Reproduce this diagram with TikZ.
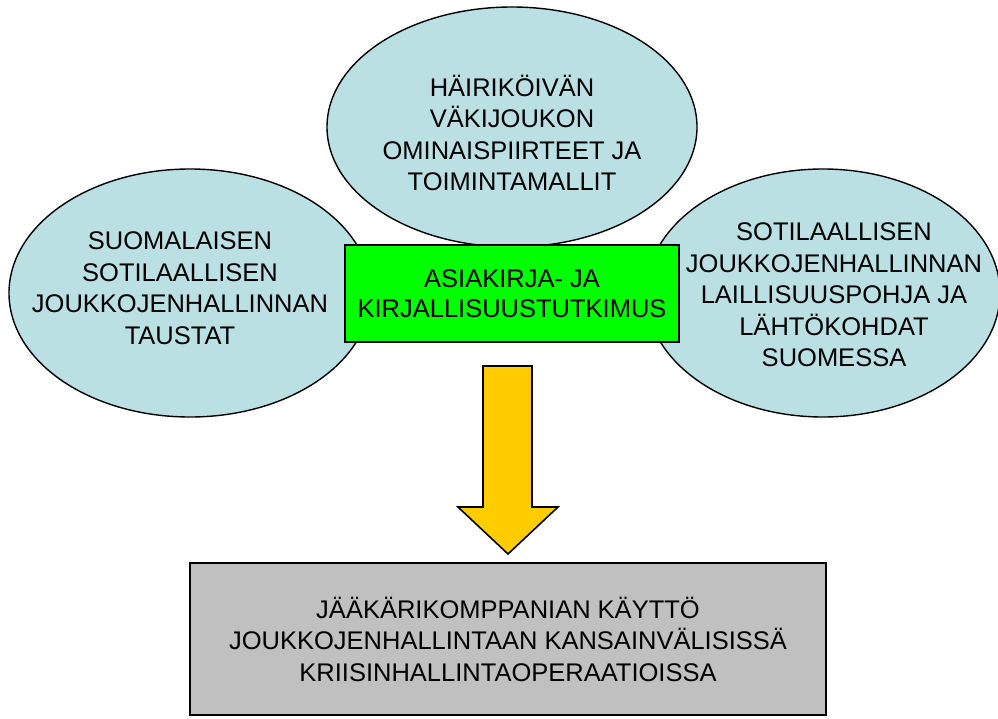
\documentclass[tikz,border=0pt]{standalone}
\usepackage{fontspec}
\setmainfont{Liberation Sans}
\definecolor{ellfill}{RGB}{187,224,228}
\definecolor{boxgreen}{RGB}{0,255,0}
\definecolor{arrowyellow}{RGB}{255,204,0}
\definecolor{boxgray}{RGB}{192,192,192}
\tikzset{
  ellshape/.style={fill=ellfill, draw=black, line width=1.4pt},
  lbl/.style={align=center, inner sep=0pt, font=\fontsize{25.5}{31.5}\selectfont},
  greenbox/.style={draw=black, line width=2pt, fill=boxgreen, inner sep=0pt,
    minimum width=334pt, minimum height=97pt, align=center, font=\fontsize{25.5}{30}\selectfont},
  graybox/.style={draw=black, line width=2pt, fill=boxgray, inner sep=0pt,
    minimum width=636pt, minimum height=152pt, align=center, font=\fontsize{25.5}{31.5}\selectfont},
  blockarrow/.style={draw=black, line width=1.6pt, fill=arrowyellow, line join=miter}
}
\begin{document}
\begin{tikzpicture}[x=1pt,y=-1pt]
\useasboundingbox (0,0) rectangle (998,718);
% ellipses
\path[ellshape] (512,127) ellipse [x radius=185pt, y radius=120pt];
\path[ellshape] (190,293) ellipse [x radius=181pt, y radius=124pt];
\path[ellshape] (823,293) ellipse [x radius=177pt, y radius=124pt];
\node[lbl] (top) at (512,133) {HÄIRIKÖIVÄN\\VÄKIJOUKON\\OMINAISPIIRTEET JA\\TOIMINTAMALLIT};
\node[lbl] (left) at (180,288) {SUOMALAISEN\\SOTILAALLISEN\\JOUKKOJENHALLINNAN\\TAUSTAT};
\node[lbl] (right) at (834,295) {SOTILAALLISEN\\JOUKKOJENHALLINNAN\\LAILLISUUSPOHJA JA\\LÄHTÖKOHDAT\\SUOMESSA};
% central box
\node[greenbox] (center) at (512,293.5) {ASIAKIRJA- JA\\KIRJALLISUUSTUTKIMUS};
% result box
\node[graybox] (result) at (508,639) {JÄÄKÄRIKOMPPANIAN KÄYTTÖ\\JOUKKOJENHALLINTAAN KANSAINVÄLISISSÄ\\KRIISINHALLINTAOPERAATIOISSA};
% block arrow
\path[blockarrow] (483,366) -- (532,366) -- (532,507) -- (558,507) -- (508,554)
  -- (458,507) -- (483,507) -- cycle;
\end{tikzpicture}
\end{document}
